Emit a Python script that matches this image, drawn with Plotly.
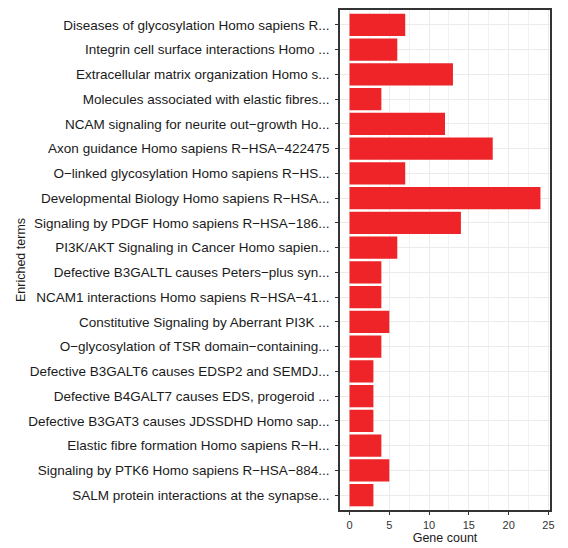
import plotly.graph_objects as go

terms = [
    "Diseases of glycosylation Homo sapiens R...",
    "Integrin cell surface interactions Homo ...",
    "Extracellular matrix organization Homo s...",
    "Molecules associated with elastic fibres...",
    "NCAM signaling for neurite out\u2212growth Ho...",
    "Axon guidance Homo sapiens R\u2212HSA\u2212422475",
    "O\u2212linked glycosylation Homo sapiens R\u2212HS...",
    "Developmental Biology Homo sapiens R\u2212HSA...",
    "Signaling by PDGF Homo sapiens R\u2212HSA\u2212186...",
    "PI3K/AKT Signaling in Cancer Homo sapien...",
    "Defective B3GALTL causes Peters\u2212plus syn...",
    "NCAM1 interactions Homo sapiens R\u2212HSA\u221241...",
    "Constitutive Signaling by Aberrant PI3K ...",
    "O\u2212glycosylation of TSR domain\u2212containing...",
    "Defective B3GALT6 causes EDSP2 and SEMDJ...",
    "Defective B4GALT7 causes EDS, progeroid ...",
    "Defective B3GAT3 causes JDSSDHD Homo sap...",
    "Elastic fibre formation Homo sapiens R\u2212H...",
    "Signaling by PTK6 Homo sapiens R\u2212HSA\u2212884...",
    "SALM protein interactions at the synapse...",
]
gene_count = [7, 6, 13, 4, 12, 18, 7, 24, 14, 6, 4, 4, 5, 4, 3, 3, 3, 4, 5, 3]
x_ticks = [0, 5, 10, 15, 20, 25]

fig = go.Figure(go.Bar(
    x=gene_count, y=terms, orientation="h",
    marker=dict(color="#EE2428", line=dict(width=0)),
    width=0.9,
))

font = "Liberation Sans, Arial, sans-serif"
fig.update_layout(
    width=568, height=548,
    margin=dict(l=340, r=18, t=8, b=33),
    paper_bgcolor="white", plot_bgcolor="white",
    showlegend=False,
    font=dict(family=font, color="#1a1a1a"),
    xaxis=dict(
        range=[-1.2, 25.2], tickvals=x_ticks, ticktext=[str(v) for v in x_ticks],
        showgrid=True, gridcolor="#ebebeb", gridwidth=1.4,
        minor=dict(dtick=2.5, tick0=0, showgrid=True, gridcolor="#f2f2f2", gridwidth=0.8, ticks=""),
        zeroline=False,
        ticks="outside", ticklen=3, tickcolor="#333333", tickwidth=1,
        tickfont=dict(size=11, color="#333333"),
        ticklabelstandoff=1,
        title=dict(text="Gene count", font=dict(size=12.5, color="#1a1a1a"), standoff=0),
        showline=True, linecolor="#333333", linewidth=1.5, mirror=True,
    ),
    yaxis=dict(
        categoryorder="array", categoryarray=terms,
        range=[19.6, -0.6],
        showgrid=True, gridcolor="#ebebeb", gridwidth=1.4,
        ticks="outside", ticklen=3, tickcolor="#333333", tickwidth=1,
        tickfont=dict(size=13.5, color="#1a1a1a"),
        ticklabelstandoff=3,
        title=dict(text="Enriched terms", font=dict(size=12.5, color="#1a1a1a"), standoff=0),
        showline=True, linecolor="#333333", linewidth=1.5, mirror=True,
    ),
)

fig.write_html("out.html", config={"displayModeBar": False},
               post_script="document.body.style.margin='0';")
